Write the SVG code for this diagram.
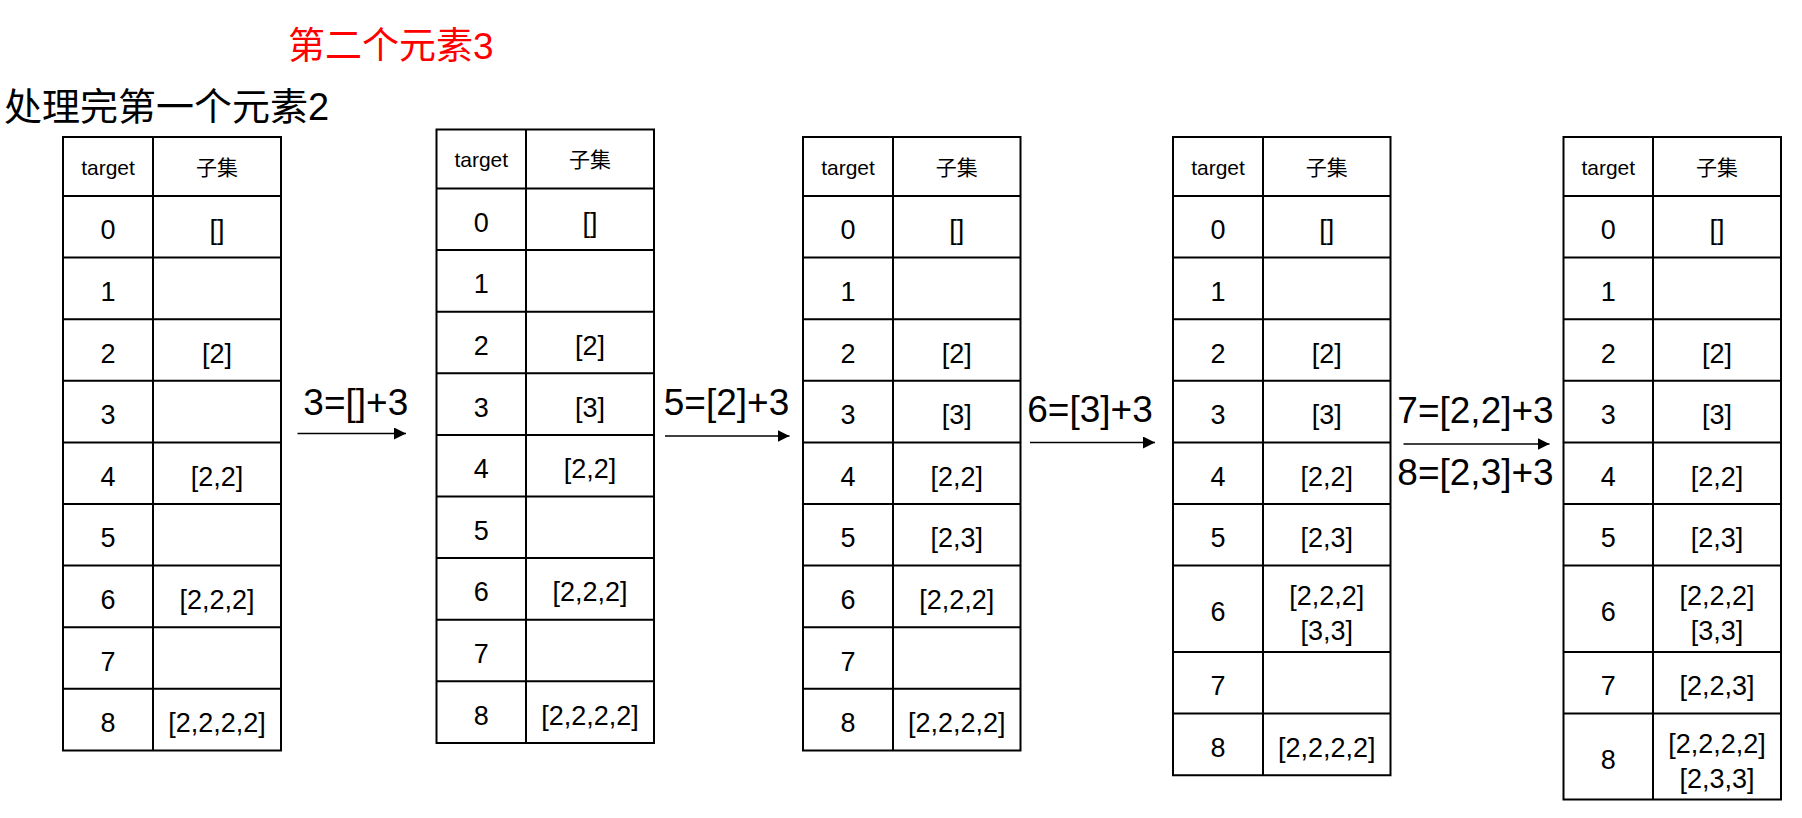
<svg xmlns="http://www.w3.org/2000/svg" width="1802" height="818" viewBox="0 0 1802 818">
<style>
.grid{fill:none;stroke:#000;stroke-width:2}
text{font-family:"Liberation Sans","Noto Sans CJK SC",sans-serif;fill:#000}
.h{font-size:21px;text-anchor:middle}
.d{font-size:27px;text-anchor:middle}
.lbl{font-size:37px;text-anchor:middle}
.title{font-size:38px}
.red{fill:#ff0000;font-size:37px}
.arr{stroke:#000;stroke-width:1.5;fill:none;marker-end:url(#ah)}
</style>
<defs>
<marker id="ah" markerUnits="userSpaceOnUse" markerWidth="12" markerHeight="12" refX="12" refY="6" orient="auto">
<path d="M0,0 L12,6 L0,12 z" fill="#000"/>
</marker>
</defs>
<rect width="1802" height="818" fill="#fff"/>
<g id="titles">
<text class="title red" x="288" y="59">第二个元素3</text>
<text class="title" x="4" y="119.5">处理完第一个元素2</text>
</g>
<g id="table1">
<path class="grid" d="M63,137H281V750.4H63Z M153,137V750.4 M63,196H281 M63,257.6H281 M63,319.2H281 M63,380.8H281 M63,442.4H281 M63,504H281 M63,565.6H281 M63,627.2H281 M63,688.8H281"/>
<text class="h" x="108" y="174.5">target</text><text class="h" x="217" y="174.5">子集</text>
<text class="d" x="108" y="239.3">0</text><text class="d" x="217" y="239.3">[]</text>
<text class="d" x="108" y="300.9">1</text>
<text class="d" x="108" y="362.5">2</text><text class="d" x="217" y="362.5">[2]</text>
<text class="d" x="108" y="424.1">3</text>
<text class="d" x="108" y="485.7">4</text><text class="d" x="217" y="485.7">[2,2]</text>
<text class="d" x="108" y="547.3">5</text>
<text class="d" x="108" y="608.9">6</text><text class="d" x="217" y="608.9">[2,2,2]</text>
<text class="d" x="108" y="670.5">7</text>
<text class="d" x="108" y="732.1">8</text><text class="d" x="217" y="732.1">[2,2,2,2]</text>
</g>
<g id="table2">
<path class="grid" d="M436.5,129.5H654V742.9H436.5Z M526,129.5V742.9 M436.5,188.5H654 M436.5,250.1H654 M436.5,311.7H654 M436.5,373.3H654 M436.5,434.9H654 M436.5,496.5H654 M436.5,558.1H654 M436.5,619.7H654 M436.5,681.3H654"/>
<text class="h" x="481.25" y="167">target</text><text class="h" x="590" y="167">子集</text>
<text class="d" x="481.25" y="231.8">0</text><text class="d" x="590" y="231.8">[]</text>
<text class="d" x="481.25" y="293.4">1</text>
<text class="d" x="481.25" y="355">2</text><text class="d" x="590" y="355">[2]</text>
<text class="d" x="481.25" y="416.6">3</text><text class="d" x="590" y="416.6">[3]</text>
<text class="d" x="481.25" y="478.2">4</text><text class="d" x="590" y="478.2">[2,2]</text>
<text class="d" x="481.25" y="539.8">5</text>
<text class="d" x="481.25" y="601.4">6</text><text class="d" x="590" y="601.4">[2,2,2]</text>
<text class="d" x="481.25" y="663">7</text>
<text class="d" x="481.25" y="724.6">8</text><text class="d" x="590" y="724.6">[2,2,2,2]</text>
</g>
<g id="table3">
<path class="grid" d="M803,137H1020.5V750.4H803Z M893,137V750.4 M803,196H1020.5 M803,257.6H1020.5 M803,319.2H1020.5 M803,380.8H1020.5 M803,442.4H1020.5 M803,504H1020.5 M803,565.6H1020.5 M803,627.2H1020.5 M803,688.8H1020.5"/>
<text class="h" x="848" y="174.5">target</text><text class="h" x="956.75" y="174.5">子集</text>
<text class="d" x="848" y="239.3">0</text><text class="d" x="956.75" y="239.3">[]</text>
<text class="d" x="848" y="300.9">1</text>
<text class="d" x="848" y="362.5">2</text><text class="d" x="956.75" y="362.5">[2]</text>
<text class="d" x="848" y="424.1">3</text><text class="d" x="956.75" y="424.1">[3]</text>
<text class="d" x="848" y="485.7">4</text><text class="d" x="956.75" y="485.7">[2,2]</text>
<text class="d" x="848" y="547.3">5</text><text class="d" x="956.75" y="547.3">[2,3]</text>
<text class="d" x="848" y="608.9">6</text><text class="d" x="956.75" y="608.9">[2,2,2]</text>
<text class="d" x="848" y="670.5">7</text>
<text class="d" x="848" y="732.1">8</text><text class="d" x="956.75" y="732.1">[2,2,2,2]</text>
</g>
<g id="table4">
<path class="grid" d="M1173,137H1390.5V775.2H1173Z M1263,137V775.2 M1173,196H1390.5 M1173,257.6H1390.5 M1173,319.2H1390.5 M1173,380.8H1390.5 M1173,442.4H1390.5 M1173,504H1390.5 M1173,565.6H1390.5 M1173,652H1390.5 M1173,713.6H1390.5"/>
<text class="h" x="1218" y="174.5">target</text><text class="h" x="1326.75" y="174.5">子集</text>
<text class="d" x="1218" y="239.3">0</text><text class="d" x="1326.75" y="239.3">[]</text>
<text class="d" x="1218" y="300.9">1</text>
<text class="d" x="1218" y="362.5">2</text><text class="d" x="1326.75" y="362.5">[2]</text>
<text class="d" x="1218" y="424.1">3</text><text class="d" x="1326.75" y="424.1">[3]</text>
<text class="d" x="1218" y="485.7">4</text><text class="d" x="1326.75" y="485.7">[2,2]</text>
<text class="d" x="1218" y="547.3">5</text><text class="d" x="1326.75" y="547.3">[2,3]</text>
<text class="d" x="1218" y="621.3">6</text><text class="d" x="1326.75" y="605.3">[2,2,2]</text><text class="d" x="1326.75" y="640.3">[3,3]</text>
<text class="d" x="1218" y="695.3">7</text>
<text class="d" x="1218" y="756.9">8</text><text class="d" x="1326.75" y="756.9">[2,2,2,2]</text>
</g>
<g id="table5">
<path class="grid" d="M1563.5,137H1781V799.6H1563.5Z M1653,137V799.6 M1563.5,196H1781 M1563.5,257.6H1781 M1563.5,319.2H1781 M1563.5,380.8H1781 M1563.5,442.4H1781 M1563.5,504H1781 M1563.5,565.6H1781 M1563.5,652H1781 M1563.5,713.6H1781"/>
<text class="h" x="1608.25" y="174.5">target</text><text class="h" x="1717" y="174.5">子集</text>
<text class="d" x="1608.25" y="239.3">0</text><text class="d" x="1717" y="239.3">[]</text>
<text class="d" x="1608.25" y="300.9">1</text>
<text class="d" x="1608.25" y="362.5">2</text><text class="d" x="1717" y="362.5">[2]</text>
<text class="d" x="1608.25" y="424.1">3</text><text class="d" x="1717" y="424.1">[3]</text>
<text class="d" x="1608.25" y="485.7">4</text><text class="d" x="1717" y="485.7">[2,2]</text>
<text class="d" x="1608.25" y="547.3">5</text><text class="d" x="1717" y="547.3">[2,3]</text>
<text class="d" x="1608.25" y="621.3">6</text><text class="d" x="1717" y="605.3">[2,2,2]</text><text class="d" x="1717" y="640.3">[3,3]</text>
<text class="d" x="1608.25" y="695.3">7</text><text class="d" x="1717" y="695.3">[2,2,3]</text>
<text class="d" x="1608.25" y="769.1">8</text><text class="d" x="1717" y="752.6">[2,2,2,2]</text><text class="d" x="1717" y="787.6">[2,3,3]</text>
</g>
<g id="connectors">
<line class="arr" x1="297.5" y1="433.5" x2="406" y2="433.5"/>
<line class="arr" x1="665" y1="436" x2="789.5" y2="436"/>
<line class="arr" x1="1030" y1="442.5" x2="1155" y2="442.5"/>
<line class="arr" x1="1403.5" y1="444" x2="1549.5" y2="444"/>
<text class="lbl" x="355.8" y="415">3=[]+3</text>
<text class="lbl" x="726.5" y="415">5=[2]+3</text>
<text class="lbl" x="1090" y="421.7">6=[3]+3</text>
<text class="lbl" x="1475.5" y="423">7=[2,2]+3</text>
<text class="lbl" x="1475.5" y="485">8=[2,3]+3</text>
</g>
</svg>
